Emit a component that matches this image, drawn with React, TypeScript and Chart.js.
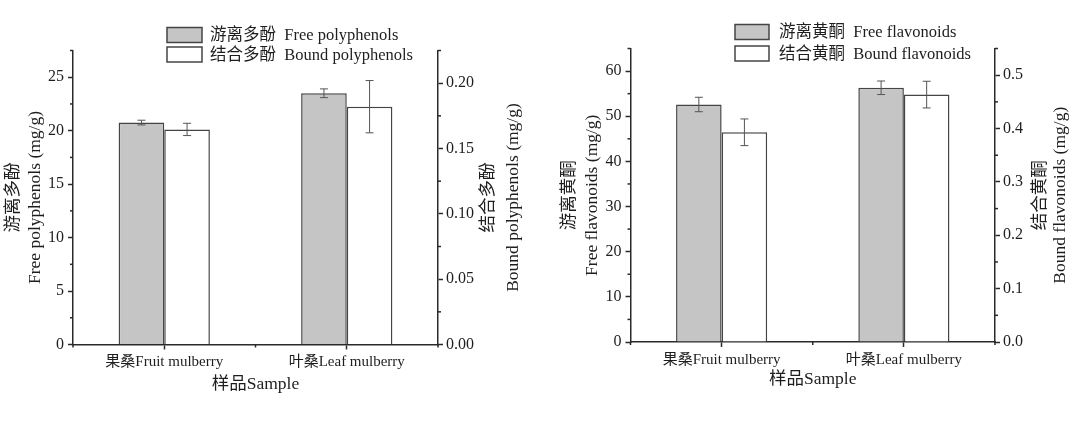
import { useEffect, useRef } from 'react';
import { Chart, registerables } from 'chart.js';

Chart.register(...registerables);

const samples = ['果桑Fruit mulberry', '叶桑Leaf mulberry'];

// polyphenols (left panel)
const freePolyphenols = [20.76, 23.5];
const freePolyphenolsErr = [0.22, 0.41];
const boundPolyphenols = [0.1646, 0.182];
const boundPolyphenolsErr = [0.0047, 0.02];

// flavonoids (right panel)
const freeFlavonoids = [52.6, 56.3];
const freeFlavonoidsErr = [1.6, 1.5];
const boundFlavonoids = [0.393, 0.4636];
const boundFlavonoidsErr = [0.025, 0.025];

const polyLeftTicks = [0, 5, 10, 15, 20, 25];
const polyRightTicks = [0, 0.05, 0.1, 0.15, 0.2];
const flavLeftTicks = [0, 10, 20, 30, 40, 50, 60];
const flavRightTicks = [0, 0.1, 0.2, 0.3, 0.4, 0.5];

const SERIF = "'Liberation Serif', 'Noto Sans CJK SC', serif";
const TEXT = '#1e1e1e';
const AXIS = '#2a2a2a';
const BAR_EDGE = '#444';
const W = 537;
const H = 422;

// error bars drawn through each dataset's own y scale
const errorBars = {
  id: 'errorBars',
  afterDatasetsDraw(chart: any) {
    const { ctx } = chart;
    ctx.save();
    ctx.strokeStyle = '#555';
    ctx.lineWidth = 1;
    chart.data.datasets.forEach((ds: any, i: number) => {
      const meta = chart.getDatasetMeta(i);
      const scale = chart.scales[meta.yAxisID];
      meta.data.forEach((bar: any, j: number) => {
        const v = ds.data[j];
        const e = ds.errors[j];
        const top = scale.getPixelForValue(v + e);
        const bot = scale.getPixelForValue(v - e);
        ctx.beginPath();
        ctx.moveTo(bar.x, top);
        ctx.lineTo(bar.x, bot);
        ctx.moveTo(bar.x - 4, top);
        ctx.lineTo(bar.x + 4, top);
        ctx.moveTo(bar.x - 4, bot);
        ctx.lineTo(bar.x + 4, bot);
        ctx.stroke();
      });
    });
    ctx.restore();
  },
};

// short ticks halfway between the labelled ones
const minorTicks = {
  id: 'minorTicks',
  afterDraw(chart: any) {
    const { ctx } = chart;
    ctx.save();
    ctx.strokeStyle = AXIS;
    ctx.lineWidth = 1.5;
    const len = 3;
    Object.values(chart.scales).forEach((s: any) => {
      const vals: number[] = [];
      if (s.type === 'category') {
        for (let i = 0; i <= chart.data.labels.length; i++) vals.push(i - 0.5);
      } else {
        const t = s.ticks.map((k: any) => k.value);
        const step = t[1] - t[0];
        t.forEach((v: number) => {
          if (v + step / 2 <= s.max + 1e-9) vals.push(v + step / 2);
        });
      }
      vals.forEach((v) => {
        const p = s.getPixelForValue(v);
        ctx.beginPath();
        if (s.position === 'left') {
          ctx.moveTo(s.right, p);
          ctx.lineTo(s.right - len, p);
        } else if (s.position === 'right') {
          ctx.moveTo(s.left, p);
          ctx.lineTo(s.left + len, p);
        } else {
          ctx.moveTo(p, s.top);
          ctx.lineTo(p, s.top + len);
        }
        ctx.stroke();
      });
    });
    ctx.restore();
  },
};

// right axis title, reading bottom to top like the left one
const rightTitle = {
  id: 'rightTitle',
  afterDraw(chart: any, _args: any, opts: any) {
    const { ctx, chartArea } = chart;
    const s = chart.scales.y1;
    const cy = (chartArea.top + chartArea.bottom) / 2;
    ctx.save();
    ctx.fillStyle = TEXT;
    ctx.font = `17.5px ${SERIF}`;
    ctx.textAlign = 'center';
    ctx.textBaseline = 'middle';
    opts.text.forEach((line: string, i: number) => {
      ctx.save();
      ctx.translate(s.left + opts.offsets[i], cy);
      ctx.rotate(-Math.PI / 2);
      ctx.fillText(line, 0, 0);
      ctx.restore();
    });
    ctx.restore();
  },
};

const boxLegend = {
  id: 'boxLegend',
  afterDraw(chart: any, _args: any, opts: any) {
    const { ctx } = chart;
    ctx.save();
    ctx.font = `16.5px ${SERIF}`;
    ctx.textBaseline = 'middle';
    chart.data.datasets.forEach((ds: any, i: number) => {
      const cy = opts.rows[i];
      ctx.fillStyle = ds.backgroundColor;
      ctx.fillRect(opts.x, cy - 7.5, opts.w, 15);
      ctx.strokeStyle = BAR_EDGE;
      ctx.lineWidth = 1.5;
      ctx.strokeRect(opts.x, cy - 7.5, opts.w, 15);
      ctx.fillStyle = TEXT;
      ctx.fillText(ds.label, opts.textX, cy + 1);
    });
    ctx.restore();
  },
};

interface PanelProps {
  freeLabel: string;
  boundLabel: string;
  free: number[];
  freeErr: number[];
  bound: number[];
  boundErr: number[];
  leftTicks: number[];
  rightTicks: number[];
  leftMax: number;
  rightMax: number;
  rightDecimals: number;
  leftTitle: string[];
  rightTitleText: string[];
  area: { left: number; right: number; top: number; bottom: number };
  leftTitlePad: number;
  rightTitleOffsets: number[];
  xTitlePad: number;
  legend: { x: number; w: number; textX: number; rows: number[] };
}

function Panel(p: PanelProps) {
  const ref = useRef<HTMLCanvasElement>(null);

  useEffect(() => {
    if (!ref.current) return;
    const yTickFont = { family: SERIF, size: 16 };
    const xTickFont = { family: SERIF, size: 15 };
    const chart = new Chart(ref.current, {
      type: 'bar',
      data: {
        labels: samples,
        datasets: [
          {
            label: p.freeLabel,
            data: p.free,
            errors: p.freeErr,
            yAxisID: 'y',
            backgroundColor: '#c5c5c5',
            borderColor: BAR_EDGE,
            borderWidth: 1.5,
          } as any,
          {
            label: p.boundLabel,
            data: p.bound,
            errors: p.boundErr,
            yAxisID: 'y1',
            backgroundColor: '#ffffff',
            borderColor: BAR_EDGE,
            borderWidth: 1.5,
          } as any,
        ],
      },
      plugins: [errorBars, minorTicks, rightTitle, boxLegend],
      options: {
        animation: false,
        responsive: true,
        maintainAspectRatio: false,
        layout: { padding: { top: p.area.top, left: 0, right: 0, bottom: 0 } },
        datasets: { bar: { categoryPercentage: 0.5, barPercentage: 1 } },
        plugins: {
          legend: { display: false },
          tooltip: { enabled: false },
          rightTitle: { text: p.rightTitleText, offsets: p.rightTitleOffsets },
          boxLegend: p.legend,
        } as any,
        scales: {
          x: {
            type: 'category',
            offset: true,
            grid: { offset: false, drawOnChartArea: false, tickLength: 5, tickColor: AXIS, tickWidth: 1.5 },
            border: { display: true, color: AXIS, width: 1.5 },
            ticks: { color: TEXT, font: xTickFont, padding: 4, maxRotation: 0, autoSkip: false },
            title: {
              display: true,
              text: '样品Sample',
              color: TEXT,
              font: { family: SERIF, size: 17.5 },
              padding: { top: 0, bottom: p.xTitlePad },
            },
            afterFit: (s: any) => {
              s.height = H - p.area.bottom;
            },
          },
          y: {
            type: 'linear',
            position: 'left',
            min: 0,
            max: p.leftMax,
            afterBuildTicks: (s: any) => {
              s.ticks = p.leftTicks.map((value) => ({ value }));
            },
            grid: { drawOnChartArea: false, tickLength: 5, tickColor: AXIS, tickWidth: 1.5 },
            border: { display: true, color: AXIS, width: 1.5 },
            ticks: { color: TEXT, font: yTickFont, padding: 4, callback: (v: any) => String(v) },
            title: {
              display: true,
              text: p.leftTitle,
              color: TEXT,
              font: { family: SERIF, size: 17.5, lineHeight: 1.28 },
              padding: { top: p.leftTitlePad, bottom: 0 },
            },
            afterFit: (s: any) => {
              s.width = p.area.left;
            },
          },
          y1: {
            type: 'linear',
            position: 'right',
            min: 0,
            max: p.rightMax,
            afterBuildTicks: (s: any) => {
              s.ticks = p.rightTicks.map((value) => ({ value }));
            },
            grid: { drawOnChartArea: false, tickLength: 5, tickColor: AXIS, tickWidth: 1.5 },
            border: { display: true, color: AXIS, width: 1.5 },
            ticks: {
              color: TEXT,
              font: yTickFont,
              padding: 3,
              callback: (v: any) => Number(v).toFixed(p.rightDecimals),
            },
            afterFit: (s: any) => {
              s.width = W - p.area.right;
            },
          },
        },
      } as any,
    });
    return () => chart.destroy();
  }, [p]);

  return (
    <div style={{ position: 'relative', width: W, height: H }}>
      <canvas ref={ref} />
    </div>
  );
}

const polyPanel: PanelProps = {
  freeLabel: '游离多酚  Free polyphenols',
  boundLabel: '结合多酚  Bound polyphenols',
  free: freePolyphenols,
  freeErr: freePolyphenolsErr,
  bound: boundPolyphenols,
  boundErr: boundPolyphenolsErr,
  leftTicks: polyLeftTicks,
  rightTicks: polyRightTicks,
  leftMax: 27.5,
  rightMax: 0.225,
  rightDecimals: 2,
  leftTitle: ['游离多酚', 'Free polyphenols (mg/g)'],
  rightTitleText: ['结合多酚', 'Bound polyphenols (mg/g)'],
  area: { left: 73, right: 438, top: 50.5, bottom: 344.5 },
  leftTitlePad: 2,
  rightTitleOffsets: [50, 75],
  xTitlePad: 27,
  legend: { x: 167, w: 35, textX: 210, rows: [35, 54.5] },
};

const flavPanel: PanelProps = {
  freeLabel: '游离黄酮  Free flavonoids',
  boundLabel: '结合黄酮  Bound flavonoids',
  free: freeFlavonoids,
  freeErr: freeFlavonoidsErr,
  bound: boundFlavonoids,
  boundErr: boundFlavonoidsErr,
  leftTicks: flavLeftTicks,
  rightTicks: flavRightTicks,
  leftMax: 65,
  rightMax: 0.55,
  rightDecimals: 1,
  leftTitle: ['游离黄酮', 'Free flavonoids (mg/g)'],
  rightTitleText: ['结合黄酮', 'Bound flavonoids (mg/g)'],
  area: { left: 93.5, right: 458, top: 48.5, bottom: 342 },
  leftTitlePad: 21.5,
  rightTitleOffsets: [45, 65],
  xTitlePad: 32,
  legend: { x: 198, w: 34, textX: 242, rows: [32, 53.5] },
};

export default function App() {
  return (
    <div
      style={{
        position: 'fixed',
        left: 0,
        top: 0,
        width: W * 2,
        height: H,
        background: '#fff',
        display: 'flex',
      }}
    >
      <Panel {...polyPanel} />
      <Panel {...flavPanel} />
    </div>
  );
}
